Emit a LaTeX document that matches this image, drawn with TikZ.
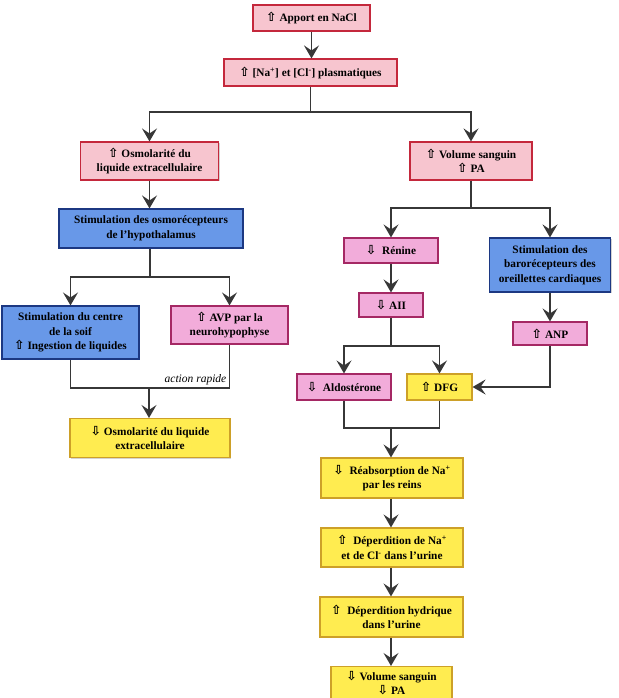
\documentclass[tikz,border=0pt]{standalone}
\usepackage{fontspec}
\setmainfont{Liberation Serif}
\newfontfamily\symfont{DejaVu Sans}
\usetikzlibrary{arrows.meta,shadows,calc}
\newcommand{\upa}{{\symfont\fontsize{12.5}{14}\selectfont\char"21E7}}
\newcommand{\dna}{{\symfont\fontsize{12.5}{14}\selectfont\char"21E9}}
\definecolor{pinkfill}{RGB}{247,197,207}
\definecolor{redborder}{RGB}{196,40,60}
\definecolor{magfill}{RGB}{242,172,218}
\definecolor{magborder}{RGB}{165,40,100}
\definecolor{bluefill}{RGB}{104,152,232}
\definecolor{blueborder}{RGB}{28,56,130}
\definecolor{yelfill}{RGB}{255,236,80}
\definecolor{yelborder}{RGB}{205,160,40}
\definecolor{linegray}{RGB}{55,55,55}
\tikzset{
  box/.style={draw, line width=1.1pt, align=center, inner sep=1pt,
    font=\bfseries\fontsize{11.3}{14.5}\selectfont,
    drop shadow={shadow xshift=1.2pt, shadow yshift=-1.2pt, opacity=0.35}},
  redbox/.style={box, fill=pinkfill, draw=redborder},
  magbox/.style={box, fill=magfill, draw=magborder},
  bluebox/.style={box, fill=bluefill, draw=blueborder},
  yelbox/.style={box, fill=yelfill, draw=yelborder},
  conn/.style={draw=linegray, line width=1.5pt},
  arr/.style={conn, -{Stealth[length=13pt,width=15pt,inset=5pt]}},
  lbl/.style={font=\itshape\fontsize{11.5}{13}\selectfont, inner sep=1pt}
}
\begin{document}
\begin{tikzpicture}[x=1pt,y=-1pt]
\useasboundingbox (0,0) rectangle (618,698);
% nodes
\node[redbox, minimum width=117pt, minimum height=26pt] (apport) at (311.5,18) {\upa{} Apport en NaCl};
\node[redbox, minimum width=173pt, minimum height=27pt] (plasma) at (310.5,72.5) {\upa{} [Na\textsuperscript{+}] et [Cl\textsuperscript{-}] plasmatiques};
\node[redbox, minimum width=138pt, minimum height=38pt] (osm) at (149.5,161) {\upa{} Osmolarité du\\liquide extracellulaire};
\node[redbox, minimum width=122pt, minimum height=38pt] (vol) at (471,161) {\upa{} Volume sanguin\\\upa{} PA};
\node[bluebox, minimum width=184pt, minimum height=39pt] (stim) at (151,228.5) {Stimulation des osmorécepteurs\\de l’hypothalamus};
\node[bluebox, minimum width=137pt, minimum height=53pt] (soif) at (70.5,332.5) {Stimulation du centre\\de la soif\\\upa{} Ingestion de liquides};
\node[magbox, minimum width=117pt, minimum height=38pt] (avp) at (229.5,325) {\upa{} AVP par la\\neurohypophyse};
\node[yelbox, minimum width=160pt, minimum height=39pt] (osmd) at (150,438) {\dna{} Osmolarité du liquide\\extracellulaire};
\node[magbox, minimum width=94pt, minimum height=25pt] (renine) at (391,250.5) {\dna{}\ \ Rénine};
\node[bluebox, minimum width=121pt, minimum height=54pt] (baro) at (550,265) {Stimulation des\\barorécepteurs des\\oreillettes cardiaques};
\node[magbox, minimum width=64pt, minimum height=24pt] (aii) at (391,305) {\dna{}\ AII};
\node[magbox, minimum width=94pt, minimum height=26pt] (aldo) at (344,387) {\dna{}\ \ Aldostérone};
\node[yelbox, minimum width=65pt, minimum height=26pt] (dfg) at (439.5,387) {\upa{} DFG};
\node[magbox, minimum width=74pt, minimum height=23pt] (anp) at (550,333.5) {\upa{} ANP};
\node[yelbox, minimum width=142pt, minimum height=40pt] (reab) at (392,478) {\dna{}\ \ Réabsorption de Na\textsuperscript{+}\\par les reins};
\node[yelbox, minimum width=142pt, minimum height=39pt] (dep1) at (392,547.5) {\upa{}\ \ Déperdition de Na\textsuperscript{+}\\et de Cl\textsuperscript{-} dans l’urine};
\node[yelbox, minimum width=143pt, minimum height=40pt] (dep2) at (391.5,617) {\upa{}\ \ Déperdition hydrique\\dans l’urine};
\node[yelbox, minimum width=121pt, minimum height=33pt] (vold) at (391.5,683) {\dna{} Volume sanguin\\\dna{} PA};
% junctions
\coordinate (j1) at (310.5,112);
\coordinate (j2) at (150,277);
\coordinate (j3) at (149,388);
\coordinate (j4) at (471,208);
\coordinate (j5) at (391,346);
\coordinate (j6) at (391,428);
% connectors
\draw[arr] (apport.south) -- (apport.south |- plasma.north);
\draw[conn] (plasma.south) -- (j1);
\draw[arr] (j1) -| (osm.north);
\draw[arr] (j1) -| (vol.north);
\draw[arr] (osm.south) -- (osm.south |- stim.north);
\draw[conn] (stim.south -| j2) -- (j2);
\draw[arr] (j2) -| (soif.south |- soif.north);
\draw[arr] (j2) -| (avp.north);
\draw[conn] (soif.south) |- (j3);
\draw[conn] (avp.south) |- (j3);
\draw[arr] (j3) -- (j3 |- osmd.north);
\node[lbl, anchor=south east] (ar) at (227.5,386) {action rapide};
\draw[conn] (vol.south) -- (j4);
\draw[arr] (j4) -| (renine.north);
\draw[arr] (j4) -| (baro.north);
\draw[arr] (renine.south) -- (aii.north);
\draw[conn] (aii.south) -- (j5);
\draw[arr] (j5) -| (aldo.north);
\draw[arr] (j5) -| (dfg.north);
\draw[arr] (baro.south) -- (anp.north);
\draw[arr] (anp.south) |- (dfg.east);
\draw[conn] (aldo.south) |- (j6);
\draw[conn] (dfg.south) |- (j6);
\draw[arr] (j6) -- (j6 |- reab.north);
\draw[arr] (reab.south -| j6) -- (j6 |- dep1.north);
\draw[arr] (dep1.south -| j6) -- (j6 |- dep2.north);
\draw[arr] (dep2.south -| j6) -- (j6 |- vold.north);
\end{tikzpicture}
\end{document}
